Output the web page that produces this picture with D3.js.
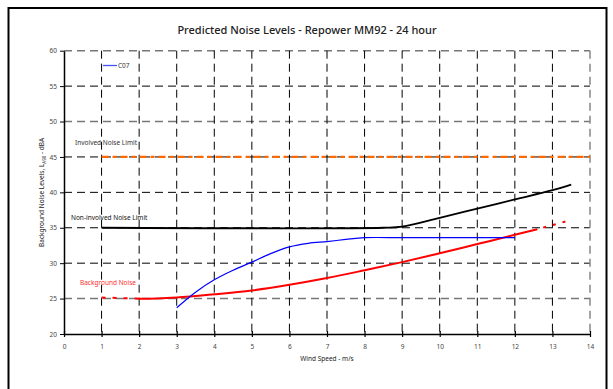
<!DOCTYPE html>
<html>
<head>
<meta charset="utf-8">
<script src="https://cdn.jsdelivr.net/npm/d3@7"></script>
<style>
  body { margin: 0; background: #fff; }
  svg { font-family: "Noto Sans", "Open Sans", sans-serif; }
</style>
</head>
<body>
<div id="chart"></div>
<script>
// chart data
var xTicks = d3.range(0, 15)
var yTicks = d3.range(20, 61, 5)

var involvedLimit = [[1, 45], [14, 45]]
var nonInvolvedLimit = [[1, 35], [8.5, 35], [9, 35.15], [10, 36.4], [11, 37.7], [12, 39.0], [13, 40.3], [13.5, 41.1]]
var bgDashed = [[1, 25.15], [1.9, 25.0]]
var bgSolid = [[1.9, 25.0], [2, 24.98], [3, 25.15], [4, 25.6], [5, 26.15], [6, 26.95], [7, 27.9], [8, 29.0], [9, 30.15], [10, 31.4], [11, 32.7], [12, 34.0], [12.6, 34.8]]
var bgDotted = [[12.6, 34.8], [13.5, 36.1]]
var c07 = [[3, 23.7], [3.5, 25.9], [4, 27.65], [4.5, 29.0], [5, 30.15], [5.5, 31.35], [6, 32.3], [6.5, 32.8], [7, 33.05], [7.5, 33.35], [8, 33.6], [9, 33.6], [10, 33.6], [11, 33.6], [12, 33.6]]

var width = 613, height = 389
var svg = d3.select("#chart").append("svg").attr("width", width).attr("height", height)

// outer frame
svg.append("rect").attr("x", 8.5).attr("y", 8).attr("width", 598).attr("height", 420)
  .attr("fill", "none").attr("stroke", "#000").attr("stroke-width", 2)

var x = d3.scaleLinear().domain([0, 14]).range([64, 590])
var y = d3.scaleLinear().domain([20, 60]).range([334, 50.7])

// title
svg.append("text").attr("x", 307).attr("y", 34).attr("text-anchor", "middle")
  .attr("font-size", "11px").attr("font-weight", 500).attr("fill", "#222")
  .text("Predicted Noise Levels - Repower MM92 - 24 hour")

// grid
var grid = svg.append("g")
yTicks.filter(function(d) { return d > 20 }).forEach(function(d) {
  var grey = (d == 25 || d == 50 || d == 60)
  grid.append("line").attr("x1", x(0)).attr("x2", x(14)).attr("y1", y(d)).attr("y2", y(d))
    .attr("stroke", grey ? "#777" : "#000").attr("stroke-width", grey ? 1.5 : 1)
    .attr("stroke-dasharray", "8,5")
})
xTicks.filter(function(d) { return d > 0 }).forEach(function(d) {
  var grey = d == 14
  grid.append("line").attr("x1", x(d)).attr("x2", x(d)).attr("y1", y(60)).attr("y2", y(20))
    .attr("stroke", grey ? "#888" : "#000").attr("stroke-width", grey ? 1.5 : 1)
    .attr("stroke-dasharray", "8,5")
})

// axes
var xAxis = svg.append("g").attr("transform", "translate(0," + y(20) + ")")
  .call(d3.axisBottom(x).tickValues(xTicks).tickSizeInner(3).tickSizeOuter(0).tickPadding(7))
xAxis.selectAll(".tick line").attr("y1", -3).attr("stroke-width", 1.2)
var yAxis = svg.append("g").attr("transform", "translate(" + x(0) + ",0)")
  .call(d3.axisLeft(y).tickValues(yTicks).tickSizeInner(4).tickSizeOuter(0).tickPadding(3))
;[xAxis, yAxis].forEach(function(a) {
  a.select(".domain").attr("stroke-width", 1.5)
  a.selectAll("text").attr("font-size", "6.5px").attr("fill", "#444").attr("font-family", "Noto Sans, sans-serif")
})

svg.append("text").attr("x", x(7)).attr("y", 361).attr("text-anchor", "middle")
  .attr("font-size", "6.5px").attr("fill", "#222").text("Wind Speed - m/s")

var ylab = svg.append("text").attr("transform", "translate(44," + y(40) + ") rotate(-90)")
  .attr("text-anchor", "middle").attr("font-size", "6.5px").attr("fill", "#222")
ylab.append("tspan").text("Background Noise Levels, L")
ylab.append("tspan").attr("font-size", "4.5px").attr("dy", 1.5).text("A90")
ylab.append("tspan").attr("dy", -1.5).text(" - dBA")

// series
var line = d3.line().x(function(d) { return x(d[0]) }).y(function(d) { return y(d[1]) })
var curve = d3.line().curve(d3.curveCatmullRom.alpha(0.5)).x(function(d) { return x(d[0]) }).y(function(d) { return y(d[1]) })

svg.append("path").attr("d", line(involvedLimit)).attr("fill", "none")
  .attr("stroke", "#ff6a00").attr("stroke-width", 2.2).attr("stroke-dasharray", "7,4,4,4")
svg.append("path").attr("d", curve(nonInvolvedLimit)).attr("fill", "none")
  .attr("stroke", "#000").attr("stroke-width", 1.8)
svg.append("path").attr("d", line(bgDashed)).attr("fill", "none")
  .attr("stroke", "#ff0000").attr("stroke-width", 2).attr("stroke-dasharray", "4,7")
svg.append("path").attr("d", curve(bgSolid)).attr("fill", "none")
  .attr("stroke", "#ff0000").attr("stroke-width", 2)
svg.append("path").attr("d", line(bgDotted)).attr("fill", "none")
  .attr("stroke", "#ff0000").attr("stroke-width", 2).attr("stroke-dasharray", "3,7").attr("stroke-dashoffset", -6)
svg.append("path").attr("d", curve(c07)).attr("fill", "none")
  .attr("stroke", "#0000ff").attr("stroke-width", 1.2)

// annotations
svg.append("text").attr("x", 75).attr("y", 145).attr("font-size", "6.5px").attr("fill", "#333").text("Involved Noise Limit")
svg.append("text").attr("x", 71).attr("y", 220).attr("font-size", "6.5px").attr("fill", "#111").text("Non-involved Noise Limit")
svg.append("text").attr("x", 80).attr("y", 285).attr("font-size", "6.5px").attr("fill", "#ff3030").text("Background Noise")

// legend
svg.append("line").attr("x1", 103).attr("x2", 117).attr("y1", 65.5).attr("y2", 65.5)
  .attr("stroke", "#4455ff").attr("stroke-width", 1.3)
svg.append("text").attr("x", 118).attr("y", 68).attr("font-size", "6.5px").attr("fill", "#333").text("C07")
</script>
</body>
</html>
